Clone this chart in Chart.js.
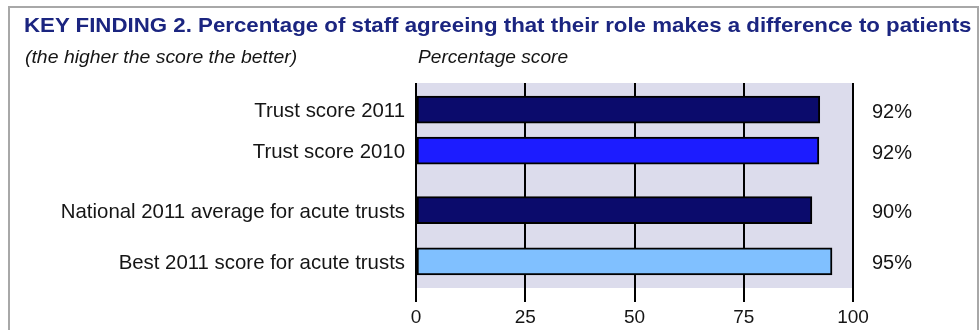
<!DOCTYPE html>
<html>
<head>
<meta charset="utf-8">
<script src="https://cdn.jsdelivr.net/npm/chart.js@4"></script>
<style>
  html, body { margin: 0; padding: 0; background: #fff; }
  #wrap { position: relative; width: 979px; height: 330px; overflow: hidden; font-family: "Liberation Sans", Arial, sans-serif; }
  #frame { position: absolute; left: 8px; top: 6px; width: 967px; height: 340px; border: 2px solid #a8a8a8; box-sizing: content-box; }
  .txt { position: absolute; white-space: nowrap; transform-origin: 0 0; line-height: 1; }
  #title { left: 24px; top: 14px; font-size: 21px; font-weight: bold; color: #1b2580; }
  #note { left: 25px; top: 48px; font-size: 18px; font-style: italic; color: #151515; }
  #axisTitle { left: 418px; top: 48px; font-size: 18px; font-style: italic; color: #151515; }
  canvas { position: absolute; left: 0; top: 0; }
</style>
</head>
<body>
<div id="wrap">
  <div id="frame"></div>
  <canvas id="grafico" width="979" height="330"></canvas>
  <div class="txt" id="title">KEY FINDING 2. Percentage of staff agreeing that their role makes a difference to patients</div>
  <div class="txt" id="note">(the higher the score the better)</div>
  <div class="txt" id="axisTitle">Percentage score</div>
</div>
<script>
// dados do grafico
const categorias = [
  "Trust score 2011",
  "Trust score 2010",
  "National 2011 average for acute trusts",
  "Best 2011 score for acute trusts"
];
const pontuacoes = [92.4, 92.2, 90.6, 95.2];
const rotulosValor = ["92%", "92%", "90%", "95%"];
const ticksX = [0, 25, 50, 75, 100];
// posicao de cada linha no eixo vertical (ha um espaco entre 2010 e a media nacional)
const linhas = [0.65, 1.65, 3.1, 4.35];
const coresBarras = ["#0b0b6c", "#1c1cff", "#0b0b6c", "#80c0ff"];

const fonte = "'Liberation Sans', Arial, sans-serif";

// ajusta a largura do texto condensado
function ajustarLargura(id, largura) {
  const el = document.getElementById(id);
  el.style.transform = "scaleX(" + (largura / el.offsetWidth) + ")";
}
ajustarLargura("title", 948);
ajustarLargura("note", 272);
ajustarLargura("axisTitle", 150);

// fundo lilas da area do grafico
const fundoArea = {
  id: "fundoArea",
  beforeDraw(chart) {
    const { ctx, chartArea: a } = chart;
    ctx.save();
    ctx.fillStyle = "#dcdcec";
    ctx.fillRect(a.left, a.top, a.right - a.left, a.bottom - a.top);
    ctx.restore();
  }
};

// rotulos de percentagem a direita
const rotulosDireita = {
  id: "rotulosDireita",
  afterDatasetsDraw(chart) {
    const ctx = chart.ctx;
    const barras = chart.getDatasetMeta(0).data;
    ctx.save();
    ctx.font = "20px " + fonte;
    ctx.fillStyle = "#151515";
    ctx.textAlign = "left";
    ctx.textBaseline = "middle";
    barras.forEach((b, i) => {
      ctx.fillText(rotulosValor[i], 872, b.y + 2.5);
    });
    ctx.restore();
  }
};

const ctx = document.getElementById("grafico").getContext("2d");
new Chart(ctx, {
  type: "bar",
  data: {
    datasets: [{
      data: pontuacoes.map((v, i) => ({ x: v, y: linhas[i] })),
      backgroundColor: coresBarras,
      borderColor: "#000",
      borderWidth: 2,
      borderSkipped: false,
      barThickness: 27
    }]
  },
  options: {
    indexAxis: "y",
    responsive: false,
    animation: false,
    layout: { padding: { left: 0, right: 126, top: 83, bottom: 0 } },
    plugins: { legend: { display: false }, tooltip: { enabled: false } },
    scales: {
      y: {
        type: "linear",
        reverse: true,
        offset: false,
        min: 0,
        max: 5,
        grid: { display: false, drawTicks: false },
        border: { display: false },
        afterBuildTicks(axis) { axis.ticks = linhas.map(v => ({ value: v })); },
        afterFit(scale) { scale.width = 416; },
        ticks: {
          autoSkip: false,
          padding: 11,
          labelOffset: 2,
          color: "#151515",
          font: { family: fonte, size: 20.4 },
          callback: (v, i) => categorias[i]
        }
      },
      x: {
        type: "linear",
        min: 0,
        max: 100,
        afterBuildTicks(axis) { axis.ticks = ticksX.map(v => ({ value: v })); },
        afterFit(scale) { scale.height = 42; },
        grid: { color: "#000", lineWidth: 2, tickLength: 14, drawOnChartArea: true },
        border: { display: false },
        ticks: {
          padding: 4,
          color: "#151515",
          font: { family: fonte, size: 19 }
        }
      }
    }
  },
  plugins: [fundoArea, rotulosDireita]
});
</script>
</body>
</html>
